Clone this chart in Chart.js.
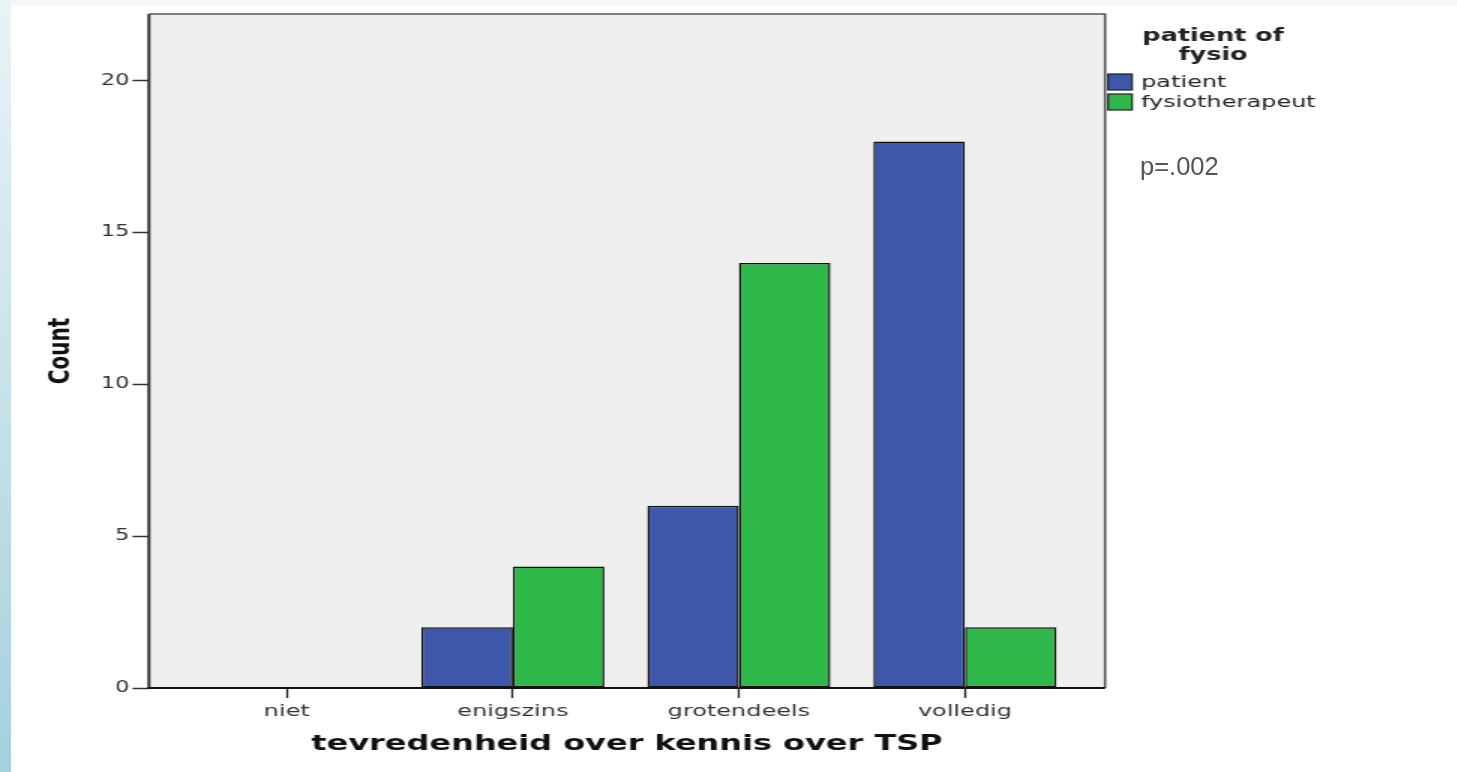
<!DOCTYPE html>
<html><head><meta charset="utf-8">
<script src="https://cdn.jsdelivr.net/npm/chart.js@4"></script>
<style>
html,body{margin:0;padding:0;background:#fff;width:1457px;height:772px;overflow:hidden;}
#topband{position:absolute;left:0;top:0;width:1457px;height:5px;background:#f3f9fb;}
#strip{position:absolute;left:0;top:0;width:11px;height:772px;background:linear-gradient(to bottom,#e8f4f7,#a6d0dc);}
#wrap{position:absolute;left:0;top:0;width:972px;height:772px;transform:scaleX(1.5);transform-origin:0 0;}
#pval{position:absolute;left:1140px;top:154px;font:25.5px 'Liberation Sans',Arial,sans-serif;line-height:25px;color:#555;}
</style></head>
<body>
<div id="topband"></div><div id="strip"></div>
<div id="wrap"><canvas id="c" width="972" height="772"></canvas></div>
<div id="pval">p=.002</div>
<script>
const categories = ['niet', 'enigszins', 'grotendeels', 'volledig'];
const patientValues = [0, 2, 6, 18];
const fysioValues = [0, 4, 14, 2];
const yTickValues = [0, 5, 10, 15, 20];
const seriesNames = ['patient', 'fysiotherapeut'];
const legendTitle = ['patient of', 'fysio'];
const xTitle = 'tevredenheid over kennis over TSP';
const yTitle = 'Count';

const blue = '#3d57aa';
const green = '#2eb84a';

const frame = {
  id: 'frame',
  beforeDatasetsDraw(chart) {
    const {ctx, chartArea: a} = chart;
    ctx.save();
    ctx.fillStyle = '#efefef';
    ctx.fillRect(a.left, a.top, a.right - a.left, a.bottom - a.top);
    ctx.restore();
  },
  afterDatasetsDraw(chart) {
    const {ctx, chartArea: a} = chart;
    ctx.save();
    ctx.strokeStyle = '#555';
    ctx.lineWidth = 1.6;
    ctx.beginPath();
    ctx.moveTo(a.left, a.top); ctx.lineTo(a.right, a.top); ctx.lineTo(a.right, a.bottom);
    ctx.stroke();
    ctx.strokeStyle = '#333';
    ctx.lineWidth = 2;
    ctx.beginPath();
    ctx.moveTo(a.left, a.top); ctx.lineTo(a.left, a.bottom);
    ctx.stroke();
    ctx.strokeStyle = '#111';
    ctx.lineWidth = 2;
    ctx.beginPath();
    ctx.moveTo(a.left - 1, a.bottom); ctx.lineTo(a.right, a.bottom);
    ctx.stroke();
    // legend
    ctx.fillStyle = '#222';
    ctx.font = 'bold 17px "DejaVu Sans"';
    ctx.textAlign = 'center';
    ctx.textBaseline = 'alphabetic';
    ctx.fillText(legendTitle[0], 808.7, 41);
    ctx.fillText(legendTitle[1], 808.7, 59.5);
    const cols = [blue, green];
    const ys = [74, 94];
    const bys = [87, 106.5];
    ctx.textAlign = 'left';
    ctx.font = '16px "DejaVu Sans"';
    for (let i = 0; i < seriesNames.length; i++) {
      ctx.fillStyle = cols[i];
      ctx.fillRect(738.7, ys[i], 16, 16);
      ctx.strokeStyle = '#222';
      ctx.lineWidth = 1.2;
      ctx.strokeRect(738.7, ys[i], 16, 16);
      ctx.fillStyle = '#222';
      ctx.fillText(seriesNames[i], 760.7, bys[i]);
    }
    ctx.restore();
  }
};

new Chart(document.getElementById('c'), {
  type: 'bar',
  data: {
    datasets: [
      {label: seriesNames[0], data: categories.map((c, i) => ({x: i, y: patientValues[i]})),
       backgroundColor: blue, borderColor: '#111', borderWidth: 1.5, borderSkipped: false},
      {label: seriesNames[1], data: categories.map((c, i) => ({x: i, y: fysioValues[i]})),
       backgroundColor: green, borderColor: '#111', borderWidth: 1.5, borderSkipped: false}
    ]
  },
  options: {
    responsive: false,
    animation: false,
    devicePixelRatio: 1,
    layout: {padding: {left: 0, top: 14, right: 235.3, bottom: 0}},
    categoryPercentage: 0.81,
    barPercentage: 1,
    plugins: {legend: {display: false}, tooltip: {enabled: false}},
    scales: {
      x: {
        type: 'linear',
        offset: false,
        min: -0.61,
        max: 3.62,
        afterBuildTicks(s) { s.ticks = categories.map((c, i) => ({value: i})); },
        afterFit(s) { s.height = 84; },
        ticks: {
          callback: (v) => categories[v],
          font: {family: 'DejaVu Sans', size: 16},
          color: '#333',
          padding: 4,
          maxRotation: 0,
          autoSkip: false
        },
        grid: {display: true, offset: false, drawOnChartArea: false, drawTicks: true, tickLength: 10, tickColor: '#222', tickWidth: 1.3},
        border: {display: false},
        title: {display: true, text: xTitle, font: {family: 'DejaVu Sans', size: 21.3, weight: 'bold'}, color: '#111', padding: {top: 0, bottom: 15}}
      },
      y: {
        min: 0,
        max: 22.2,
        afterBuildTicks(s) { s.ticks = yTickValues.map(v => ({value: v})); },
        afterFit(s) { s.width = 99.3; },
        ticks: {
          font: {family: 'DejaVu Sans', size: 15},
          color: '#333',
          padding: 2
        },
        grid: {display: true, drawOnChartArea: false, drawTicks: true, tickLength: 11, tickColor: '#333', tickWidth: 1.5},
        border: {display: false},
        title: {display: true, text: yTitle, font: {family: 'DejaVu Sans', size: 20, weight: 'bold'}, color: '#111', padding: {top: 29, bottom: 0}}
      }
    }
  },
  plugins: [frame]
});
</script>
</body></html>
